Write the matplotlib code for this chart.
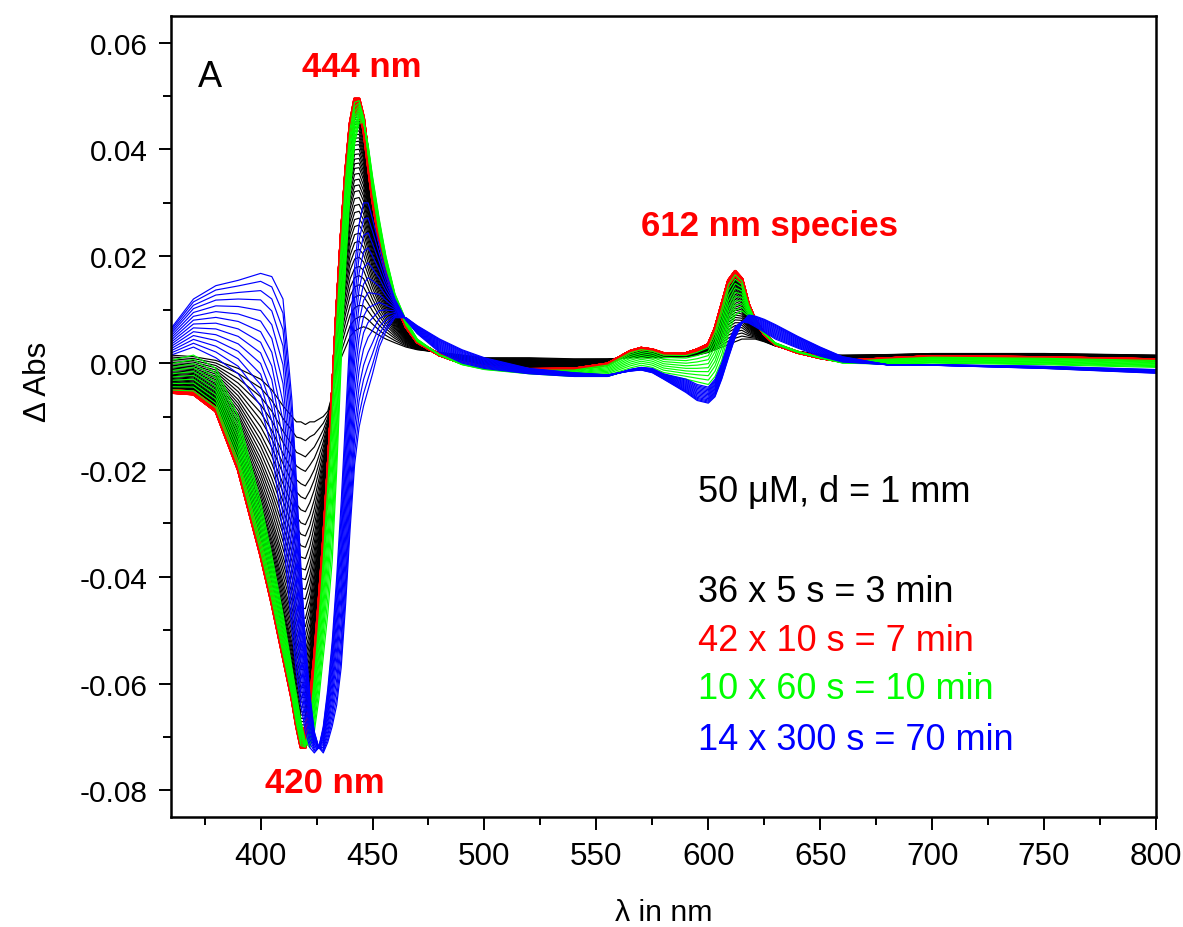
import numpy as np
import matplotlib
matplotlib.use("Agg")
import matplotlib.pyplot as plt
from matplotlib.ticker import MultipleLocator, FormatStrFormatter
from matplotlib import font_manager

# ---------------------------------------------------------------- data
# wavelength grid (nm)
wavelength = [360, 370, 380, 390, 400, 405, 410, 414, 416, 418, 420, 422, 424, 426,
              428, 430, 432, 434, 436, 438, 440, 442, 444, 446, 448, 450, 453, 456,
              460, 465, 470, 480, 490, 500, 520, 540, 555, 565, 570, 575, 580, 590,
              595, 600, 603, 606, 609, 612, 615, 618, 621, 625, 630, 640, 650, 660,
              680, 700, 750, 800]

# difference spectra (ΔAbs) at the start of the run
spec_start = [0.0015, 0.0012, 0.0005, -0.001, -0.003, -0.005, -0.008, -0.010, -0.011, -0.011,
              -0.0115, -0.011, -0.011, -0.0105, -0.010, -0.009, -0.006, -0.002, 0.001, 0.003,
              0.005, 0.006, 0.0065, 0.0068, 0.0065, 0.006, 0.0052, 0.0045, 0.0038, 0.003,
              0.0025, 0.002, 0.0015, 0.001, 0.001, 0.0008, 0.0008, 0.001, 0.001, 0.001,
              0.001, 0.0012, 0.0015, 0.002, 0.0025, 0.003, 0.0035, 0.004, 0.0045, 0.0045,
              0.0045, 0.004, 0.0032, 0.0022, 0.0016, 0.0015, 0.0016, 0.0018, 0.0018, 0.0015]

# maximum of the 444 nm / 612 nm species (after 3 min)
spec_444 = [-0.0055, -0.0058, -0.009, -0.020, -0.036, -0.045, -0.055, -0.063, -0.068, -0.072,
            -0.072, -0.067, -0.058, -0.047, -0.035, -0.021, -0.006, 0.010, 0.024, 0.036,
            0.045, 0.0495, 0.0495, 0.046, 0.039, 0.032, 0.024, 0.018, 0.012, 0.007,
            0.004, 0.0015, 0.0, -0.0008, -0.0013, -0.0012, -0.0002, 0.0022, 0.0028, 0.0025,
            0.0018, 0.0018, 0.0025, 0.0035, 0.0065, 0.011, 0.0155, 0.0172, 0.0158, 0.011,
            0.008, 0.0055, 0.0035, 0.002, 0.001, 0.0003, 0.0008, 0.0012, 0.001, 0.0006]

# end of the 60 s series (20 min)
spec_20min = [0.0005, 0.0015, -0.001, -0.010, -0.026, -0.036, -0.047, -0.057, -0.062, -0.067,
              -0.071, -0.072, -0.069, -0.063, -0.055, -0.047, -0.037, -0.020, 0.000, 0.018,
              0.032, 0.041, 0.045, 0.045, 0.041, 0.035, 0.027, 0.020, 0.013, 0.008,
              0.0045, 0.0015, -0.0003, -0.0012, -0.002, -0.0025, -0.0025, -0.0013, -0.0008, -0.0012,
              -0.0022, -0.003, -0.0035, -0.004, -0.0025, 0.0005, 0.0055, 0.009, 0.0098, 0.0088,
              0.0072, 0.0055, 0.0038, 0.0022, 0.001, 0.0, -0.0002, 0.0, -0.0003, -0.0008]

# first spectrum of the 300 s series
spec_25min = [0.0015, 0.003, 0.001, -0.002, -0.008, -0.016, -0.032, -0.050, -0.058, -0.064,
              -0.069, -0.072, -0.073, -0.072, -0.068, -0.061, -0.052, -0.040, -0.026, -0.010,
              0.006, 0.018, 0.026, 0.030, 0.030, 0.027, 0.022, 0.017, 0.012, 0.008,
              0.0055, 0.002, 0.0, -0.001, -0.002, -0.0025, -0.0025, -0.0012, -0.0008, -0.001,
              -0.002, -0.003, -0.004, -0.0045, -0.003, 0.000, 0.004, 0.0068, 0.0078, 0.0075,
              0.0068, 0.0058, 0.0045, 0.0028, 0.0013, 0.0002, -0.0003, -0.0003, -0.0006, -0.0012]

# last spectrum (90 min)
spec_90min = [0.0065, 0.012, 0.0145, 0.0155, 0.0168, 0.0162, 0.012, -0.007, -0.022, -0.038,
              -0.052, -0.062, -0.069, -0.072, -0.073, -0.071, -0.068, -0.064, -0.057, -0.045,
              -0.031, -0.019, -0.012, -0.008, -0.005, -0.002, 0.003, 0.006, 0.0085, 0.0085,
              0.007, 0.0045, 0.0025, 0.001, -0.001, -0.0018, -0.0022, -0.0015, -0.0013, -0.0018,
              -0.003, -0.0055, -0.007, -0.0075, -0.0063, -0.003, 0.001, 0.0048, 0.0075, 0.009,
              0.0088, 0.0082, 0.0072, 0.005, 0.003, 0.0012, -0.0003, -0.0004, -0.001, -0.0019]

# extent of conversion for each recorded spectrum within its series
progress_5s = [0.0, 0.05, 0.10, 0.145, 0.19, 0.23, 0.27, 0.31, 0.345, 0.38, 0.415, 0.45,
               0.48, 0.51, 0.54, 0.57, 0.60, 0.625, 0.65, 0.675, 0.70, 0.72, 0.74, 0.76,
               0.78, 0.80, 0.815, 0.83, 0.845, 0.86, 0.875, 0.89, 0.90, 0.91, 0.92, 0.93]
progress_10s = [0.940, 0.942, 0.944, 0.946, 0.948, 0.950, 0.952, 0.954, 0.956, 0.958,
                0.960, 0.962, 0.964, 0.966, 0.968, 0.970, 0.972, 0.974, 0.976, 0.978,
                0.980, 0.981, 0.982, 0.983, 0.984, 0.985, 0.986, 0.987, 0.988, 0.989,
                0.990, 0.991, 0.992, 0.993, 0.994, 0.995, 0.996, 0.997, 0.998, 0.999,
                1.000, 1.000]
progress_60s = [0.08, 0.18, 0.28, 0.38, 0.48, 0.58, 0.68, 0.78, 0.89, 1.0]
progress_300s = [0.0, 0.08, 0.16, 0.24, 0.32, 0.40, 0.48, 0.56, 0.64, 0.72, 0.80, 0.87, 0.94, 1.0]

series_labels = ["36 x 5 s = 3 min", "42 x 10 s = 7 min", "10 x 60 s = 10 min",
                 "14 x 300 s = 70 min"]

# ---------------------------------------------------------------- style
RED, GREEN, BLUE, BLACK = "#ff0000", "#00ff00", "#0000ff", "#000000"

available = {f.name for f in font_manager.fontManager.ttflist}
SANS = "Liberation Sans" if "Liberation Sans" in available else "DejaVu Sans"
NARROW = "Liberation Sans Narrow" if "Liberation Sans Narrow" in available else SANS
narrow_scale = 1.0 if NARROW != SANS else 0.87

plt.rcParams["font.family"] = [SANS, "DejaVu Sans"]
plt.rcParams["axes.unicode_minus"] = False

fig = plt.figure(figsize=(11.83, 9.28), dpi=100)
ax = fig.add_axes([0.1446, 0.1185, 0.8326, 0.8632])

wl = np.array(wavelength)
s0, s1, s2 = np.array(spec_start), np.array(spec_444), np.array(spec_20min)
s3, s4 = np.array(spec_25min), np.array(spec_90min)

lw = 0.85
for p in progress_5s:
    ax.plot(wl, s0 + p * (s1 - s0), color=BLACK, lw=lw)
for p in progress_10s:
    ax.plot(wl, s0 + p * (s1 - s0), color=RED, lw=2.0)
for p in progress_60s:
    ax.plot(wl, s1 + p * (s2 - s1), color=GREEN, lw=lw)
for p in progress_300s:
    ax.plot(wl, s3 + p * (s4 - s3), color=BLUE, lw=lw)

# ---------------------------------------------------------------- axes
ax.set_xlim(360, 800)
ax.set_ylim(-0.085, 0.065)
ax.xaxis.set_major_locator(MultipleLocator(50))
ax.xaxis.set_minor_locator(MultipleLocator(25))
ax.yaxis.set_major_locator(MultipleLocator(0.02))
ax.yaxis.set_minor_locator(MultipleLocator(0.01))
ax.yaxis.set_major_formatter(FormatStrFormatter("%.2f"))

for sp in ax.spines.values():
    sp.set_linewidth(1.8)
ax.tick_params(which="both", direction="out", top=False, right=False, width=1.4)
ax.tick_params(which="major", length=9)
ax.tick_params(which="minor", length=5.5)
ax.tick_params(axis="y", which="major", labelsize=21.5, pad=8)
ax.tick_params(axis="x", which="major", labelsize=26 * narrow_scale, pad=8)
for lab in ax.get_xticklabels():
    lab.set_family(NARROW)

ax.set_xlabel("λ in nm", family=NARROW, fontsize=25 * narrow_scale, va="center")
ax.xaxis.set_label_coords(0.5, -0.119)
ax.set_ylabel("Δ Abs", family=NARROW, fontsize=26 * narrow_scale, va="center")
ax.yaxis.set_label_coords(-0.135, 0.545)

# ---------------------------------------------------------------- annotations
ax.text(0.0396, 0.925, "A", transform=ax.transAxes, fontsize=26,
        ha="center", va="center", color=BLACK)
ax.text(0.194, 0.9375, "444 nm", transform=ax.transAxes, fontsize=25,
        fontweight="bold", ha="center", va="center", color=RED)
ax.text(0.156, 0.0437, "420 nm", transform=ax.transAxes, fontsize=25,
        fontweight="bold", ha="center", va="center", color=RED)
ax.text(0.608, 0.739, "612 nm species", transform=ax.transAxes, fontsize=25,
        fontweight="bold", ha="center", va="center", color=RED)

ax.text(0.535, 0.406, "50 μM, d = 1 mm", transform=ax.transAxes, fontsize=26,
        ha="left", va="center", color=BLACK)
for label, y, c in zip(series_labels, [0.282, 0.221, 0.160, 0.0974],
                       [BLACK, RED, GREEN, BLUE]):
    ax.text(0.535, y, label, transform=ax.transAxes, fontsize=26,
            ha="left", va="center", color=c)

fig.savefig("out.png", dpi=100, facecolor="white")
